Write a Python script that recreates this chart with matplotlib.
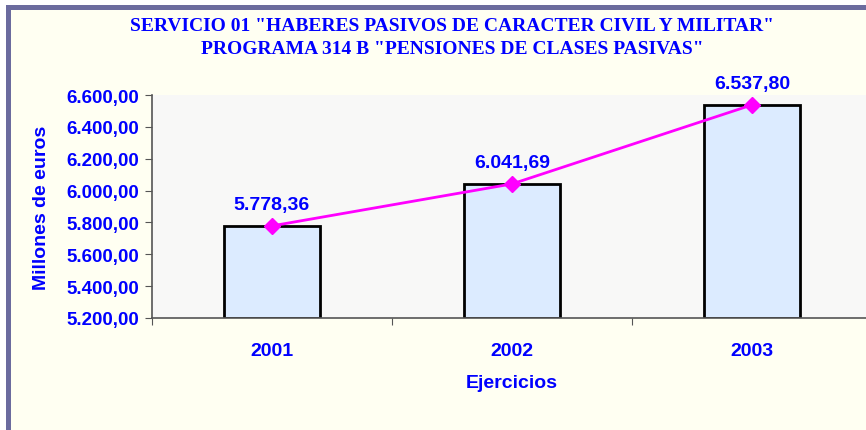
import matplotlib.pyplot as plt
from matplotlib.patches import Rectangle

anios = ["2001", "2002", "2003"]
importes = [5778.36, 6041.69, 6537.80]
etiquetas = ["5.778,36", "6.041,69", "6.537,80"]
ticks_y = [5200, 5400, 5600, 5800, 6000, 6200, 6400, 6600]

azul = "#0000FF"
fondo = "#FFFFF2"
borde = "#6B6B9E"


def formato_es(v):
    s = f"{v:,.2f}"
    return s.replace(",", "X").replace(".", ",").replace("X", ".")


fig = plt.figure(figsize=(8.66, 4.31), dpi=100)
fig.patch.set_facecolor("white")

# fondo del gráfico y marco
fig.patches.append(Rectangle((6 / 866, 0), 1, 1 - 6 / 431, transform=fig.transFigure,
                             facecolor=fondo, edgecolor="none", zorder=-3))
fig.patches.append(Rectangle((6 / 866, 1 - 11 / 431), 1, 5 / 431, transform=fig.transFigure,
                             facecolor=borde, edgecolor="none", zorder=-2))
fig.patches.append(Rectangle((6 / 866, 0), 5 / 866, 1 - 6 / 431, transform=fig.transFigure,
                             facecolor=borde, edgecolor="none", zorder=-2))

ax = fig.add_axes([152 / 866, 112 / 431, 720 / 866, 223 / 431])
ax.set_facecolor("#F8F8F7")

x = range(len(anios))
ax.bar(x, [v - 5200 for v in importes], bottom=5200, width=0.4,
       color="#DCEBFF", edgecolor="black", linewidth=2, zorder=2)
ax.plot(x, importes, color="#FF00FF", linewidth=2, marker="D", markersize=8,
        zorder=3, clip_on=False)

for i, (v, t) in enumerate(zip(importes, etiquetas)):
    ax.annotate(t, (i, v), xytext=(0, 9), textcoords="offset points",
                ha="center", va="bottom", color=azul, fontsize=14,
                fontweight="bold", family="Liberation Sans", annotation_clip=False)

ax.set_xlim(-0.5, 2.5)
ax.set_ylim(5200, 6600)
ax.set_yticks(ticks_y)
ax.set_yticklabels([formato_es(v) for v in ticks_y])
ax.set_xticks([-0.5, 0.5, 1.5, 2.5])
ax.set_xticklabels([])
ax.set_xticks(list(x), minor=True)
ax.set_xticklabels(anios, minor=True)
ax.tick_params(axis="x", which="minor", length=0, pad=17)
ax.tick_params(axis="x", which="major", length=5, color="#555555")
ax.tick_params(axis="y", length=5, color="#555555", pad=4)

for lab in ax.get_yticklabels():
    lab.set_fontsize(13.5)
for lab in ax.get_xticklabels(minor=True):
    lab.set_fontsize(14)
for lab in ax.get_yticklabels() + ax.get_xticklabels(minor=True):
    lab.set_color(azul)
    lab.set_fontweight("bold")
    lab.set_family("Liberation Sans")

for s in ["top", "right"]:
    ax.spines[s].set_visible(False)
for s in ["left", "bottom"]:
    ax.spines[s].set_color("#555555")
    ax.spines[s].set_linewidth(1.2)

ax.set_ylabel("Millones de euros", color=azul, fontsize=14, fontweight="bold",
              family="Liberation Sans", labelpad=12)
ax.set_xlabel("Ejercicios", color=azul, fontsize=14, fontweight="bold",
              family="Liberation Sans", labelpad=11)

fig.text(452 / 866, 1 - 38 / 431,
         'SERVICIO 01 "HABERES PASIVOS DE CARACTER CIVIL Y MILITAR"\n'
         'PROGRAMA 314 B "PENSIONES DE CLASES PASIVAS"',
         ha="center", va="center", color=azul, fontsize=14, fontweight="bold",
         family="Liberation Serif", linespacing=1.4)

fig.savefig("out.png", dpi=100)
